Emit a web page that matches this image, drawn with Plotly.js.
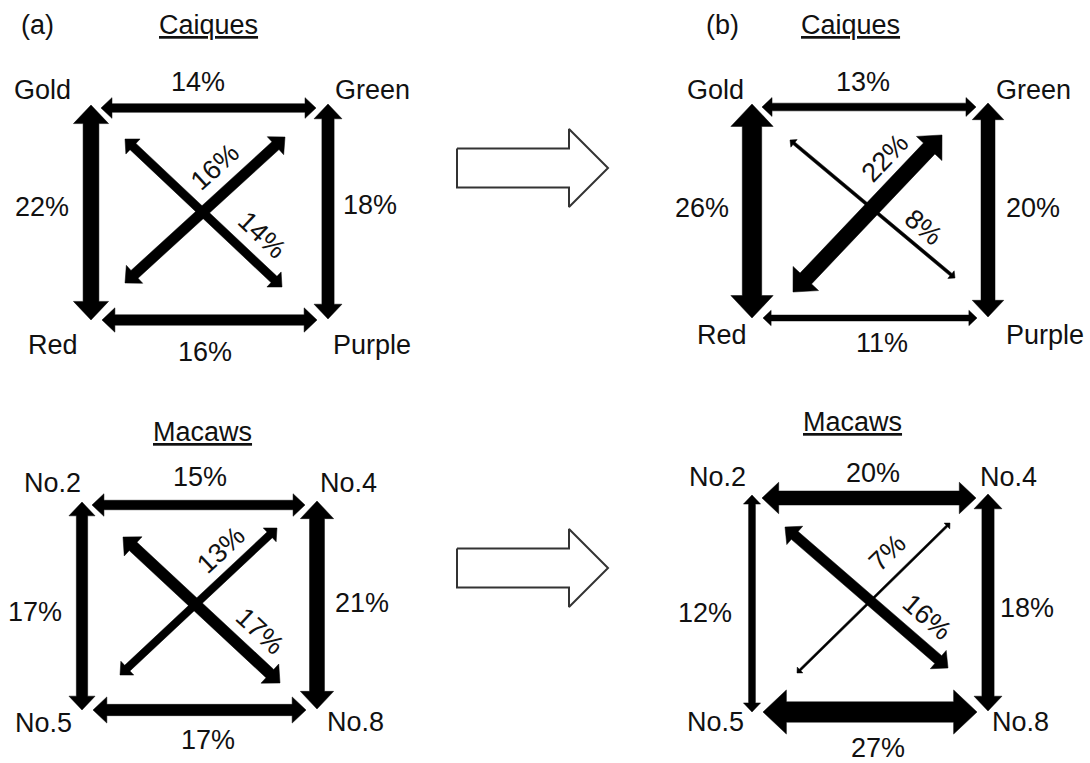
<!DOCTYPE html>
<html><head><meta charset="utf-8">
<script src="https://cdn.plot.ly/plotly-3.0.1.min.js"></script>
<style>html,body{margin:0;padding:0;background:#fff}#chart{width:1090px;height:763px}</style>
</head><body><div id="chart"></div>
<script>
// ---------------- DATA ----------------
// node order: top-left, top-right, bottom-left, bottom-right
const caiquesNodes = ['Gold', 'Green', 'Red', 'Purple'];
const macawsNodes = ['No.2', 'No.4', 'No.5', 'No.8'];
// edge order: TL-TR (top), TR-BR (right), BL-BR (bottom), TL-BL (left), TL-BR (diag \), TR-BL (diag /)
const edgeNames = ['top', 'right', 'bottom', 'left', 'diagDown', 'diagUp'];
const caiquesBefore = [14, 18, 16, 22, 14, 16];
const caiquesAfter  = [13, 20, 11, 26, 8, 22];
const macawsBefore  = [15, 21, 17, 17, 17, 13];
const macawsAfter   = [20, 18, 27, 12, 16, 7];
const panelLetters = ['(a)', '(b)'];
const speciesTitles = ['Caiques', 'Macaws'];

// ---------------- LAYOUT (pixel positions) ----------------
const panels = [
  { values: caiquesBefore, nodes: caiquesNodes, frame: {L: 91, R: 328, T: 108, B: 320},
    diag: [[[125, 139], [282, 287]], [[285, 137], [125, 283]]],
    nodePos: [[42, 90], [372, 90], [53, 345], [372, 345]],
    pctPos: [[198, 82], [370, 205], [205, 352], [42, 207], [262, 235], [215, 167]],
    title: [speciesTitles[0], 208, 25], letter: [panelLetters[0], 37, 25] },
  { values: caiquesAfter, nodes: caiquesNodes, frame: {L: 752, R: 988, T: 107, B: 318},
    diag: [[[790, 140], [955, 278]], [[942, 135], [793, 292]]],
    nodePos: [[715, 90], [1033, 90], [722, 335], [1045, 335]],
    pctPos: [[863, 82], [1033, 208], [882, 343], [702, 208], [923, 227], [885, 158]],
    title: [speciesTitles[0], 850, 25], letter: [panelLetters[1], 722, 25] },
  { values: macawsBefore, nodes: macawsNodes, frame: {L: 82, R: 317, T: 505, B: 710},
    diag: [[[123, 537], [280, 683]], [[277, 528], [120, 675]]],
    nodePos: [[52, 483], [348, 483], [43, 723], [355, 722]],
    pctPos: [[200, 477], [362, 603], [208, 740], [35, 612], [260, 631], [221, 550]],
    title: [speciesTitles[1], 202, 432], letter: null },
  { values: macawsAfter, nodes: macawsNodes, frame: {L: 752, R: 988, T: 498, B: 712},
    diag: [[[785, 527], [948, 668]], [[950, 523], [797, 673]]],
    nodePos: [[717, 477], [1008, 477], [715, 722], [1020, 722]],
    pctPos: [[873, 473], [1027, 608], [878, 748], [705, 613], [927, 617], [887, 553]],
    title: [speciesTitles[1], 852, 422], letter: null }
];
const blockArrows = [168, 568]; // centre y of the hollow transition arrows

const FONT = {family: 'Liberation Sans, Arial, sans-serif', size: 27, color: '#111'};

function edgeEnds(f, diag) {
  return [
    [[f.L + 10, f.T], [f.R - 12, f.T]],
    [[f.R, f.T - 4], [f.R, f.B - 1]],
    [[f.L + 11, f.B], [f.R - 11, f.B]],
    [[f.L, f.T - 3], [f.L, f.B]],
    diag[0],
    diag[1]
  ];
}

function arrowPoly(p1, p2, pct) {
  const t = Math.max(1.8, 0.9 * pct - 4);
  const hw = 2 * t + 3.5;
  const hl = 0.53 * hw;
  const dx = p2[0] - p1[0], dy = p2[1] - p1[1];
  const len = Math.hypot(dx, dy);
  const ux = dx / len, uy = dy / len, nx = -uy, ny = ux;
  const pt = (base, along, across) => [base[0] + ux * along + nx * across, base[1] + uy * along + ny * across];
  const pts = [
    p1,
    pt(p1, hl, hw / 2), pt(p1, hl, t / 2),
    pt(p2, -hl, t / 2), pt(p2, -hl, hw / 2),
    p2,
    pt(p2, -hl, -hw / 2), pt(p2, -hl, -t / 2),
    pt(p1, hl, -t / 2), pt(p1, hl, -hw / 2),
    p1
  ];
  return {x: pts.map(p => p[0]), y: pts.map(p => p[1])};
}

const traces = [];
const annotations = [];

panels.forEach(pan => {
  const ends = edgeEnds(pan.frame, pan.diag);
  pan.values.forEach((v, i) => {
    const poly = arrowPoly(ends[i][0], ends[i][1], v);
    traces.push({type: 'scatter', mode: 'lines', x: poly.x, y: poly.y, fill: 'toself',
      fillcolor: '#000', line: {color: '#000', width: 0.5}, hoverinfo: 'skip', showlegend: false,
      name: edgeNames[i]});
    const e = ends[i];
    let ang = 0;
    if (i >= 4) {
      ang = Math.atan2(e[1][1] - e[0][1], e[1][0] - e[0][0]) * 180 / Math.PI;
      if (ang > 90) ang -= 180;
      if (ang < -90) ang += 180;
    }
    annotations.push({x: pan.pctPos[i][0], y: pan.pctPos[i][1], text: v + '%', showarrow: false,
      textangle: ang, font: FONT, xanchor: 'center', yanchor: 'middle'});
  });
  pan.nodes.forEach((n, i) => {
    annotations.push({x: pan.nodePos[i][0], y: pan.nodePos[i][1], text: n, showarrow: false,
      font: FONT, xanchor: 'center', yanchor: 'middle'});
  });
  annotations.push({x: pan.title[1], y: pan.title[2], text: '<u>' + pan.title[0] + '</u>', showarrow: false,
    font: FONT, xanchor: 'center', yanchor: 'middle'});
  if (pan.letter) {
    annotations.push({x: pan.letter[1], y: pan.letter[2], text: pan.letter[0], showarrow: false,
      font: FONT, xanchor: 'center', yanchor: 'middle'});
  }
});

blockArrows.forEach(yc => {
  const x0 = 457, x1 = 569, xt = 608, bh = 19.5, hh = 39;
  traces.push({type: 'scatter', mode: 'lines',
    x: [x0, x1, x1, xt, x1, x1, x0, x0],
    y: [yc - bh, yc - bh, yc - hh, yc, yc + hh, yc + bh, yc + bh, yc - bh],
    line: {color: '#333', width: 2}, fill: 'toself', fillcolor: '#fff',
    hoverinfo: 'skip', showlegend: false});
});

const layout = {
  width: 1090, height: 763,
  margin: {l: 0, r: 0, t: 0, b: 0},
  paper_bgcolor: '#fff', plot_bgcolor: '#fff',
  xaxis: {range: [0, 1090], visible: false, fixedrange: true},
  yaxis: {range: [763, 0], visible: false, fixedrange: true},
  annotations: annotations,
  showlegend: false
};

Plotly.newPlot('chart', traces, layout, {staticPlot: true, displayModeBar: false});
</script>
</body></html>
